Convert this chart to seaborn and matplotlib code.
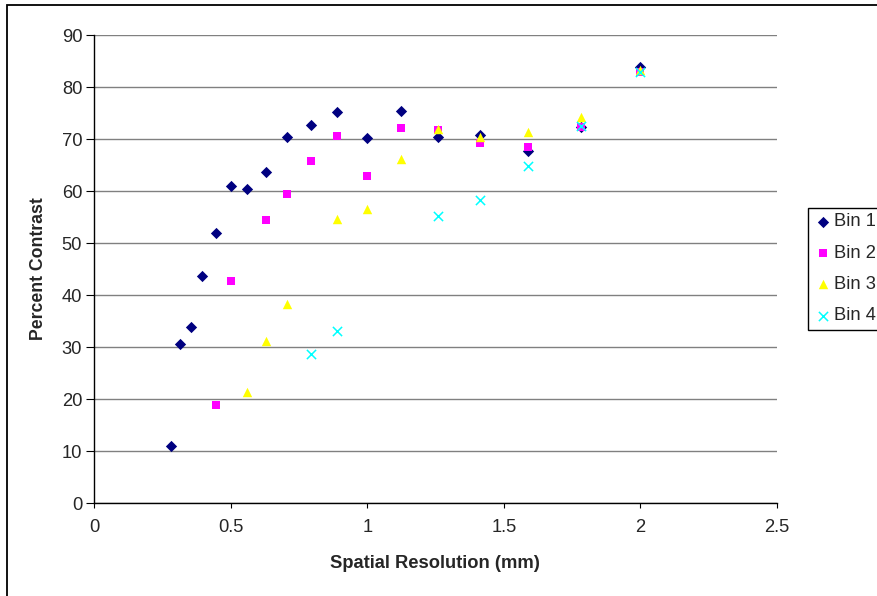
import matplotlib
matplotlib.use("Agg")
import matplotlib.pyplot as plt
import seaborn as sns
import pandas as pd
from matplotlib.patches import Rectangle

# ---- data ----
bin1_x = [0.281, 0.315, 0.354, 0.397, 0.445, 0.5, 0.561, 0.63, 0.707, 0.794, 0.891, 1.0, 1.122, 1.26, 1.414, 1.587, 1.782, 2.0]
bin1_y = [11.0, 30.6, 33.9, 43.6, 51.9, 61.0, 60.4, 63.7, 70.4, 72.6, 75.1, 70.1, 75.4, 70.4, 70.8, 67.7, 72.4, 83.9]

bin2_x = [0.445, 0.5, 0.63, 0.707, 0.794, 0.891, 1.0, 1.122, 1.26, 1.414, 1.587, 1.782, 2.0]
bin2_y = [18.9, 42.6, 54.5, 59.5, 65.8, 70.5, 62.8, 72.2, 71.8, 69.2, 68.4, 72.4, 82.8]

bin3_x = [0.561, 0.63, 0.707, 0.891, 1.0, 1.122, 1.26, 1.414, 1.587, 1.782, 2.0]
bin3_y = [21.4, 31.1, 38.3, 54.6, 56.5, 66.2, 72.0, 70.4, 71.4, 74.2, 83.3]

bin4_x = [0.794, 0.891, 1.26, 1.414, 1.587, 1.782, 2.0]
bin4_y = [28.7, 33.1, 55.1, 58.2, 64.9, 72.5, 82.9]

labels = ["Bin 1", "Bin 2", "Bin 3", "Bin 4"]
colors = ["#000080", "#FF00FF", "#FFFF00", "#00FFFF"]
markers = ["D", "s", "^", "x"]
sizes = [33, 40, 46, 44]

x_ticks = [0, 0.5, 1, 1.5, 2, 2.5]
x_tick_labels = ["0", "0.5", "1", "1.5", "2", "2.5"]
y_ticks = [0, 10, 20, 30, 40, 50, 60, 70, 80, 90]

sns.set_style("white")
plt.rcParams["font.family"] = ["Liberation Sans", "DejaVu Sans"]

W, H = 878, 596
FS = 13.2
fig = plt.figure(figsize=(W / 100, H / 100), dpi=100)
ax = fig.add_axes([94 / W, 1 - 503 / H, (777 - 94) / W, (503 - 35) / H])

series = [(bin1_x, bin1_y), (bin2_x, bin2_y), (bin3_x, bin3_y), (bin4_x, bin4_y)]
for (xs, ys), lab, col, mk, sz in zip(series, labels, colors, markers, sizes):
    df = pd.DataFrame({"x": xs, "y": ys})
    if mk == "x":
        sns.scatterplot(data=df, x="x", y="y", marker=mk, color=col, s=sz,
                        linewidth=1.1, label=lab, ax=ax, zorder=3, clip_on=False)
    else:
        sns.scatterplot(data=df, x="x", y="y", marker=mk, color=col, s=sz,
                        linewidth=0, edgecolor=col, label=lab, ax=ax, zorder=3, clip_on=False)

ax.set_xlim(0, 2.5)
ax.set_ylim(0, 90)
ax.set_xticks(x_ticks)
ax.set_xticklabels(x_tick_labels)
ax.set_yticks(y_ticks)

ax.yaxis.grid(True, color="#808080", linewidth=1.0)
ax.xaxis.grid(False)
ax.set_axisbelow(True)

for side in ["top", "right"]:
    ax.spines[side].set_visible(False)
for side in ["left", "bottom"]:
    ax.spines[side].set_color("black")
    ax.spines[side].set_linewidth(1.0)

ax.tick_params(axis="y", direction="out", length=5.5, width=0.8, color="black",
               labelsize=FS, pad=3, left=True)
ax.tick_params(axis="x", direction="out", length=3.5, width=0.8, color="black",
               labelsize=FS, pad=8, bottom=True)

ax.set_xlabel("Spatial Resolution (mm)", fontsize=FS, fontweight="bold", va="center")
ax.set_ylabel("Percent Contrast", fontsize=FS - 0.5, fontweight="bold", va="center")
ax.xaxis.set_label_coords(0.499, (503 - 564) / 468)
ax.yaxis.set_label_coords((39 - 94) / 683, 0.501)

sns.move_legend(ax, loc="upper left", bbox_to_anchor=(808 / W, 1 - 208 / H),
                bbox_transform=fig.transFigure, title=None, frameon=True,
                fancybox=False, edgecolor="black", framealpha=1,
                fontsize=FS, borderpad=0.3, labelspacing=0.78,
                handletextpad=0.1, handlelength=1.0, borderaxespad=0)
leg = ax.get_legend()
leg.get_frame().set_linewidth(1.0)

fig.add_artist(Rectangle((7 / W, -0.1), 2, 1 - 5 / H + 0.1, transform=fig.transFigure,
                         fill=False, edgecolor="black", linewidth=1.3))

fig.savefig("out.png", dpi=100)
